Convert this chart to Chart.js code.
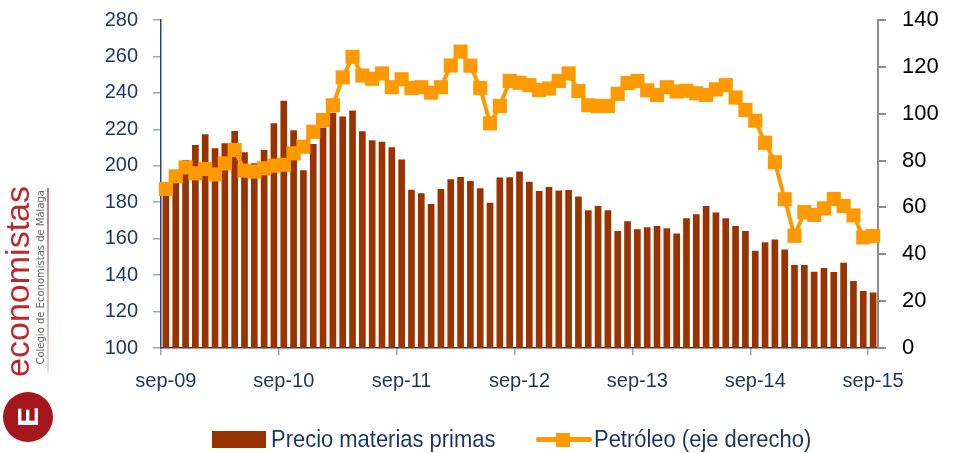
<!DOCTYPE html>
<html><head><meta charset="utf-8">
<script src="https://cdn.jsdelivr.net/npm/chart.js@4.4.0/dist/chart.umd.min.js"></script>
<style>
html,body{margin:0;padding:0;background:#fff;}
#wrap{position:relative;width:956px;height:453px;overflow:hidden;background:#fff;}
#c{position:absolute;left:0;top:0;}
.rot{position:absolute;writing-mode:vertical-rl;transform:rotate(180deg);white-space:nowrap;}
#eco{left:0;top:186px;font-family:'Liberation Sans',Arial,sans-serif;font-size:34px;line-height:34px;color:#BC2830;}
#col{left:35px;top:190px;font-family:'DejaVu Sans',sans-serif;font-size:10px;line-height:12px;color:#666;}
#vline{position:absolute;left:47px;top:188px;width:2px;height:185px;background:linear-gradient(#C8727A,#F2D6D8);}
#circ{position:absolute;left:3px;top:392px;width:50px;height:50px;border-radius:50%;background:#A6161D;color:#fff;font-family:'Liberation Sans',Arial,sans-serif;font-weight:bold;font-size:30px;line-height:50px;text-align:center;}
#circ span{display:inline-block;transform:rotate(-90deg);}
.lg{position:absolute;font-family:'Liberation Sans',Arial,sans-serif;font-size:24.4px;line-height:24px;color:#17375E;transform:scaleX(0.9);transform-origin:left center;white-space:nowrap;}
</style></head><body>
<div id="wrap">
<canvas id="c" width="956" height="453"></canvas>
<div id="eco" class="rot">economistas</div>
<div id="col" class="rot">Colegio de Economistas de Málaga</div>
<div id="vline"></div>
<div id="circ"><span>E</span></div>
<div style="position:absolute;left:212px;top:431px;width:54px;height:17px;background:#993300;"></div>
<div id="lg1" class="lg" style="left:271px;top:427px;">Precio materias primas</div>
<div style="position:absolute;left:536px;top:437px;width:56px;height:5px;background:#FF9900;border-radius:2px;"></div>
<div style="position:absolute;left:556px;top:433px;width:14px;height:14px;background:#FF9900;"></div>
<div id="lg2" class="lg" style="left:594px;top:427px;">Petróleo (eje derecho)</div>
</div>
<script>
const categories = [
 'sep-09','oct-09','nov-09','dic-09',
 'ene-10','feb-10','mar-10','abr-10','may-10','jun-10','jul-10','ago-10','sep-10','oct-10','nov-10','dic-10',
 'ene-11','feb-11','mar-11','abr-11','may-11','jun-11','jul-11','ago-11','sep-11','oct-11','nov-11','dic-11',
 'ene-12','feb-12','mar-12','abr-12','may-12','jun-12','jul-12','ago-12','sep-12','oct-12','nov-12','dic-12',
 'ene-13','feb-13','mar-13','abr-13','may-13','jun-13','jul-13','ago-13','sep-13','oct-13','nov-13','dic-13',
 'ene-14','feb-14','mar-14','abr-14','may-14','jun-14','jul-14','ago-14','sep-14','oct-14','nov-14','dic-14',
 'ene-15','feb-15','mar-15','abr-15','may-15','jun-15','jul-15','ago-15','sep-15'
];
const xTickLabels = ['sep-09','sep-10','sep-11','sep-12','sep-13','sep-14','sep-15'];
const precioMateriasPrimas = [
 188,192,203.2,211.4,217.3,209.6,212.3,219.1,207.4,201.4,208.7,223.3,235.7,219.5,197.5,212,
 221,229.1,227,230.4,218.9,214,213.2,210.1,203.5,186.8,184.9,179,187.3,192.6,193.9,191.7,
 187.6,179.7,193.5,193.7,196.9,191.3,186.2,188.4,186.5,186.7,183.1,175.6,177.9,175.6,164.2,
 169.5,165.2,166.2,167,165.7,162.9,171.2,173.4,177.9,174.3,171.2,167,164.2,153.4,158,159.6,
 154.1,145.5,145.5,141.9,143.9,141.7,146.8,136.8,131.3,130.4
];
const petroleo = [
 67.9,73.3,77.1,74.6,76.4,74.1,78.8,84.5,75.7,75.3,
 76.7,77.8,78.2,83.1,85.9,92.3,97.3,103.6,115.5,124.3,
 116.3,114.9,117.2,111.3,114.7,111,111.3,109,111.3,120.6,
 126.5,120.5,111,95.9,103.3,114,113.2,112.2,110.1,110.8,
 114,117.2,109.7,103.6,103.3,103.3,108.5,113.1,114,110,
 108,111.3,109.5,109.8,108.7,108,110.4,112.2,106.9,101.6,
 97,87.6,79.3,63.5,47.9,58,56.8,59.6,63.6,60.6,
 56.6,47.2,47.8
];
const leftAxis = {min:100, max:280, step:20};
const rightAxis = {min:0, max:140, step:20};

const FAM = "'Liberation Sans', Arial, sans-serif";
const isLabelled = i => xTickLabels.includes(categories[i]);
new Chart(document.getElementById('c').getContext('2d'), {
  data: {
    labels: categories,
    datasets: [
      {type:'line', label:'Petróleo (eje derecho)', data:petroleo, yAxisID:'y1',
       borderColor:'#FF9900', backgroundColor:'#FF9900', borderWidth:4,
       pointStyle:'rect', pointRadius:10, pointBorderWidth:0, pointBackgroundColor:'#FF9900',
       tension:0, order:0},
      {type:'bar', label:'Precio materias primas', data:precioMateriasPrimas, yAxisID:'y',
       backgroundColor:'#993300', barPercentage:0.68, categoryPercentage:1, order:1}
    ]
  },
  options: {
    responsive:false, animation:false, devicePixelRatio:1,
    layout:{padding:{top:20,left:0,right:0,bottom:0}},
    plugins:{legend:{display:false}, tooltip:{enabled:false}},
    scales:{
      x:{type:'category', offset:true,
         grid:{offset:true, drawOnChartArea:false, drawTicks:true, tickLength:7, lineWidth:1.5,
               color:c => isLabelled(c.index) ? '#8EA9C8' : 'rgba(0,0,0,0)'},
         border:{color:'#1F3864', width:1.5},
         ticks:{autoSkip:false, maxRotation:0, minRotation:0, color:'#17375E', font:{size:20, family:FAM}, padding:14,
                callback:(v,i)=> isLabelled(i) ? categories[i] : ''},
         afterFit:s=>{s.height=105; s.paddingLeft=0; s.paddingRight=0;}},
      y:{position:'left', min:leftAxis.min, max:leftAxis.max,
         ticks:{stepSize:leftAxis.step, color:'#17375E', font:{size:20, family:FAM}, padding:15},
         grid:{drawOnChartArea:false, tickLength:8, color:'#8EA9C8', lineWidth:1.5},
         border:{color:'#1F497D', width:1.5},
         afterFit:s=>{s.width=161; s.paddingTop=0; s.paddingBottom=0;}},
      y1:{position:'right', min:rightAxis.min, max:rightAxis.max,
         ticks:{stepSize:rightAxis.step, color:'#000', font:{size:22, family:FAM}, padding:16},
         grid:{drawOnChartArea:false, tickLength:8, color:'#8C8C8C', lineWidth:2},
         border:{color:'#8C8C8C', width:2},
         afterFit:s=>{s.width=78; s.paddingTop=0; s.paddingBottom=0;}}
    }
  }
});
</script>
</body></html>
